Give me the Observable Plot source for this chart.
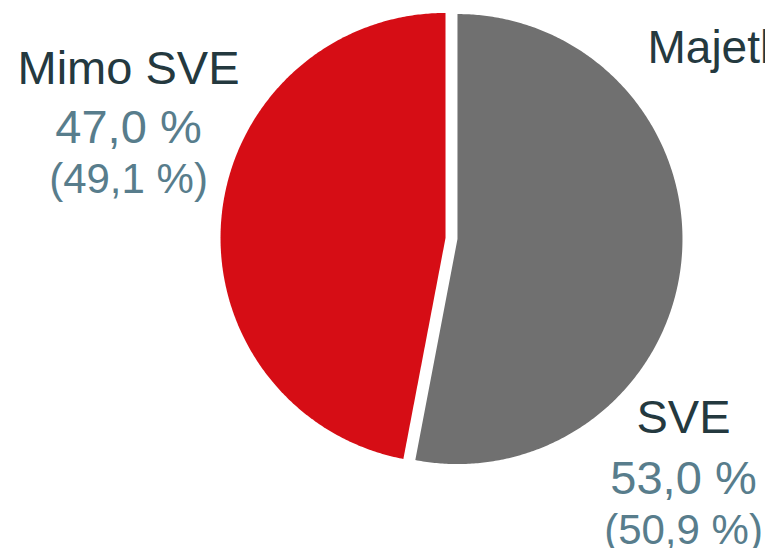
<!DOCTYPE html>
<html><head><meta charset="utf-8">
<script src="https://cdn.jsdelivr.net/npm/d3@7"></script>
<script src="https://cdn.jsdelivr.net/npm/@observablehq/plot@0.6"></script>
<style>html,body{margin:0;padding:0;overflow:hidden;background:#fff}</style>
</head><body><div id="chart"></div>
<script>
// ---- data ----
const categories = ["SVE", "Mimo SVE"];
const shares = [53.0, 47.0];
const previousShares = [50.9, 49.1];
const sideTitle = "Majetková";

// ---- layout / style (pixels) ----
const W = 765, H = 548;
const cx = 451, cy = 238, R = 225, explode = 6;
const colors = ["#707070", "#d60d15"];
const darkText = "#24393f", valueText = "#587d8c";
const labelLayout = [
  {x: 683, base: [432, 493, 543]},
  {x: 128, base: [83, 142, 192]}
];
const px2x = px => (px - cx) / R;
const py2y = py => (cy - py) / R;
const fmt = v => v.toFixed(1).replace(".", ",") + " %";

// pie slices as polygons (unit-radius coordinates, y up)
const arcs = d3.pie().sort(null).startAngle(0).endAngle(2 * Math.PI)(shares);
const slicePts = [];
arcs.forEach((a, i) => {
  const mid = (a.startAngle + a.endAngle) / 2;
  const ox = Math.sin(mid) * explode / R, oy = Math.cos(mid) * explode / R;
  const n = Math.ceil((a.endAngle - a.startAngle) / (Math.PI / 360));
  slicePts.push({name: categories[i], x: ox, y: oy});
  for (let k = 0; k <= n; k++) {
    const t = a.startAngle + (a.endAngle - a.startAngle) * k / n;
    slicePts.push({name: categories[i], x: ox + Math.sin(t), y: oy + Math.cos(t)});
  }
  slicePts.push({name: categories[i], x: ox, y: oy});
});

const labels = categories.map((c, i) => ({
  name: c, share: shares[i], prev: previousShares[i],
  lx: labelLayout[i].x, base: labelLayout[i].base
}));

const plot = Plot.plot({
  width: W, height: H, margin: 0,
  x: {domain: [-1, 1], range: [cx - R, cx + R]},
  y: {domain: [-1, 1], range: [cy + R, cy - R]},
  color: {domain: categories, range: colors},
  axis: null,
  style: {fontFamily: "'Liberation Sans', Arial, sans-serif", background: "white", overflow: "hidden"},
  marks: [
    Plot.line(slicePts, {x: "x", y: "y", z: "name", fill: "name", stroke: null, curve: "linear"}),
    Plot.text(labels, {x: d => px2x(d.lx), y: d => py2y(d.base[0]), text: "name",
      fill: darkText, fontSize: 47, textAnchor: "middle", lineAnchor: "bottom"}),
    Plot.text(labels, {x: d => px2x(d.lx), y: d => py2y(d.base[1]), text: d => fmt(d.share),
      fill: valueText, fontSize: 47, textAnchor: "middle", lineAnchor: "bottom"}),
    Plot.text(labels, {x: d => px2x(d.lx), y: d => py2y(d.base[2]), text: d => "(" + fmt(d.prev) + ")",
      fill: valueText, fontSize: 42, textAnchor: "middle", lineAnchor: "bottom"}),
    Plot.text([sideTitle], {x: () => px2x(647), y: () => py2y(62), text: d => d,
      fill: darkText, fontSize: 46, textAnchor: "start", lineAnchor: "bottom"})
  ]
});
document.getElementById("chart").appendChild(plot);
</script>
</body></html>
